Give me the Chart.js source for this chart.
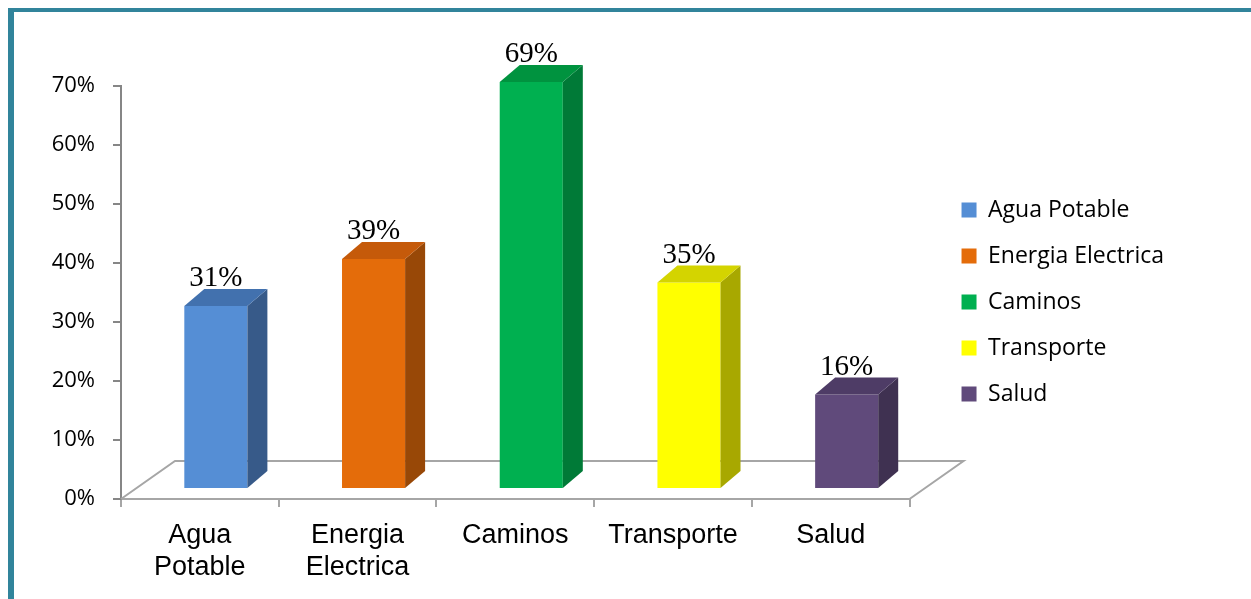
<!DOCTYPE html>
<html>
<head>
<meta charset="utf-8">
<script src="https://cdn.jsdelivr.net/npm/chart.js@4.4.0/dist/chart.umd.min.js"></script>
<style>
body { margin: 0; background: #fff; overflow: hidden; }
.frame { position: absolute; left: 8px; top: 8px; width: 1400px; height: 800px; border-left: 6px solid #31849B; border-top: 4px solid #31849B; }
canvas { position: absolute; left: 0; top: 0; }
</style>
</head>
<body>
<div class="frame"></div>
<canvas id="myChart" width="1251" height="599"></canvas>
<script>
// data
var categories = [['Agua', 'Potable'], ['Energia', 'Electrica'], 'Caminos', 'Transporte', 'Salud'];
var legendNames = ['Agua Potable', 'Energia Electrica', 'Caminos', 'Transporte', 'Salud'];
var percentValues = [31, 39, 69, 35, 16];
var yMin = 0;
var yMax = 70;
var yStep = 10;

// styles
var frontColors = ['#558ED5', '#E46C0A', '#00B050', '#FFFF00', '#604A7B'];
var sideColors = ['#375A89', '#984807', '#007A37', '#A8A800', '#3F3151'];
var topColors = ['#4271AE', '#C55A0A', '#00933F', '#D4D400', '#4E3C66'];
var frontShift = { x: 16, y: -10 };
var barDepth = { x: 20, y: -17 };
var floorDepth = { x: 54, y: -38 };

/**
 * 3D look: floor, shifted front faces, side and top faces, value labels
 */
var bars3d = {
    id: 'bars3d',
    beforeDatasetsDraw: function(chart) {
        var ctx = chart.ctx;
        var a = chart.chartArea;
        ctx.save();
        ctx.strokeStyle = '#A6A6A6';
        ctx.lineWidth = 2;
        ctx.beginPath();
        ctx.moveTo(a.left, a.bottom);
        ctx.lineTo(a.left + floorDepth.x, a.bottom + floorDepth.y);
        ctx.lineTo(a.right + floorDepth.x, a.bottom + floorDepth.y);
        ctx.lineTo(a.right, a.bottom);
        ctx.stroke();
        ctx.restore();
        ctx.save();
        ctx.translate(frontShift.x, frontShift.y);
    },
    afterDatasetsDraw: function(chart) {
        var ctx = chart.ctx;
        ctx.restore();
        var meta = chart.getDatasetMeta(0);
        for (var i = 0; i < meta.data.length; i++) {
            var bar = meta.data[i];
            var x0 = bar.x - bar.width / 2 + frontShift.x;
            var x1 = bar.x + bar.width / 2 + frontShift.x;
            var yt = bar.y + frontShift.y;
            var yb = bar.base + frontShift.y;

            ctx.fillStyle = sideColors[i];
            ctx.beginPath();
            ctx.moveTo(x1, yt);
            ctx.lineTo(x1 + barDepth.x, yt + barDepth.y);
            ctx.lineTo(x1 + barDepth.x, yb + barDepth.y);
            ctx.lineTo(x1, yb);
            ctx.closePath();
            ctx.fill();

            ctx.fillStyle = topColors[i];
            ctx.beginPath();
            ctx.moveTo(x0, yt);
            ctx.lineTo(x0 + barDepth.x, yt + barDepth.y);
            ctx.lineTo(x1 + barDepth.x, yt + barDepth.y);
            ctx.lineTo(x1, yt);
            ctx.closePath();
            ctx.fill();

            ctx.fillStyle = '#000';
            ctx.font = '29px "Liberation Serif"';
            ctx.textAlign = 'center';
            ctx.textBaseline = 'alphabetic';
            ctx.fillText(percentValues[i] + '%', (x0 + x1) / 2, yt + barDepth.y - 3);
        }
    }
};

var ctx = document.getElementById('myChart').getContext('2d');
var chart = new Chart(ctx, {
    type: 'bar',
    data: {
        labels: categories,
        datasets: [{
            data: percentValues,
            backgroundColor: frontColors,
            borderWidth: 0,
            categoryPercentage: 1,
            barPercentage: 0.4
        }]
    },
    plugins: [bars3d],
    options: {
        responsive: false,
        animation: false,
        devicePixelRatio: 1,
        layout: { padding: { top: 5, right: 77, bottom: 0, left: 0 } },
        plugins: {
            tooltip: { enabled: false },
            legend: {
                position: 'right',
                maxWidth: 320,
                onClick: null,
                labels: {
                    boxWidth: 15,
                    boxHeight: 15,
                    padding: 23,
                    color: '#000',
                    font: { family: '"Open Sans"', size: 23 },
                    generateLabels: function(chart) {
                        return legendNames.map(function(name, i) {
                            return { text: name, fillStyle: frontColors[i], strokeStyle: frontColors[i], lineWidth: 0, hidden: false, index: i, datasetIndex: 0, fontColor: '#000' };
                        });
                    }
                }
            }
        },
        scales: {
            x: {
                grid: { display: true, drawOnChartArea: false, tickLength: 8, color: '#A6A6A6', lineWidth: 2, offset: true },
                border: { display: true, color: '#A6A6A6', width: 2 },
                ticks: { color: '#000', font: { family: '"Liberation Sans"', size: 27, lineHeight: 1.2 }, padding: 12, maxRotation: 0, autoSkip: false },
                afterFit: function(s) { s.height = 100; }
            },
            y: {
                min: yMin,
                max: yMax,
                grid: { display: true, drawOnChartArea: false, tickLength: 8, color: '#868686', lineWidth: 2 },
                border: { display: true, color: '#868686', width: 2 },
                ticks: {
                    stepSize: yStep,
                    padding: 18,
                    color: '#000',
                    font: { family: '"Open Sans"', size: 22 },
                    callback: function(v) { return v + '%'; }
                },
                afterFit: function(s) { s.width = 121; }
            },
            topSpace: {
                axis: 'x', type: 'linear', position: 'top', min: 0, max: 1,
                ticks: { display: false }, grid: { display: false }, border: { display: false },
                afterFit: function(s) { s.height = 81; }
            },
            rightSpace: {
                axis: 'y', type: 'linear', position: 'right', min: 0, max: 1,
                ticks: { display: false }, grid: { display: false }, border: { display: false },
                afterFit: function(s) { s.width = 29; }
            }
        }
    }
});
</script>
</body>
</html>
